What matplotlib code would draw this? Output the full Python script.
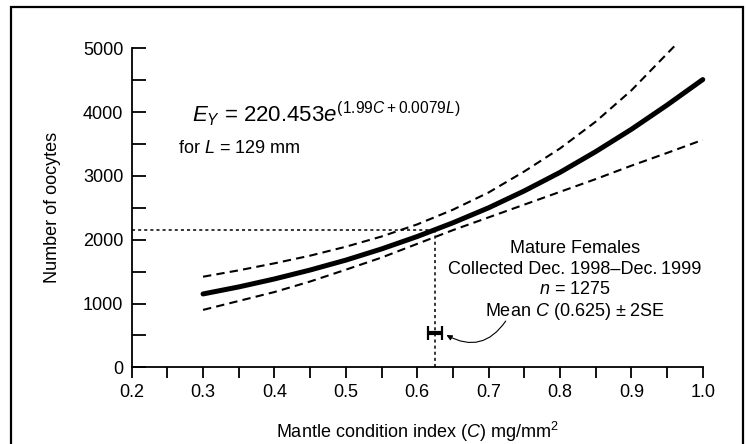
import matplotlib
matplotlib.use("Agg")
import matplotlib.pyplot as plt
from matplotlib.patches import Rectangle
from matplotlib.ticker import MultipleLocator

plt.rcParams["font.family"] = ["Liberation Sans", "DejaVu Sans"]
plt.rcParams["mathtext.fontset"] = "custom"
plt.rcParams["mathtext.rm"] = "Liberation Sans"
plt.rcParams["mathtext.it"] = "Liberation Sans:italic"

# values
c_mean = [0.30, 0.35, 0.40, 0.45, 0.50, 0.55, 0.60, 0.65, 0.70, 0.75, 0.80, 0.85, 0.90, 0.95, 1.00]
eggs_mean = [1150, 1260, 1385, 1525, 1680, 1855, 2050, 2265, 2500, 2765, 3055, 3380, 3730, 4110, 4510]

c_upper = [0.30, 0.35, 0.40, 0.45, 0.50, 0.55, 0.60, 0.65, 0.70, 0.75, 0.80, 0.85, 0.90, 0.96]
eggs_upper = [1420, 1520, 1630, 1750, 1890, 2050, 2240, 2470, 2740, 3070, 3430, 3850, 4340, 5030]

c_lower = [0.30, 0.35, 0.40, 0.45, 0.50, 0.55, 0.60, 0.65, 0.70, 0.75, 0.80, 0.85, 0.90, 0.95, 1.00]
eggs_lower = [900, 1040, 1180, 1345, 1530, 1720, 1935, 2150, 2350, 2550, 2750, 2950, 3160, 3360, 3565]

mean_c = 0.625
mean_c_2se = 0.01
eggs_at_mean = 2160
errbar_y = 540

x_ticks = [0.2, 0.3, 0.4, 0.5, 0.6, 0.7, 0.8, 0.9, 1.0]
x_labels = ["0.2", "0.3", "0.4", "0.5", "0.6", "0.7", "0.8", "0.9", "1.0"]
y_ticks = [0, 1000, 2000, 3000, 4000, 5000]

info_lines = ["Mature Females",
              "Collected Dec. 1998\u2013Dec.\u20091999",
              "$n$ = 1275",
              "Mean $C$ (0.625) \u00b1 2SE"]


def main():
    fig = plt.figure(figsize=(7.46, 4.44), dpi=100)
    ax = fig.add_axes([0.1765, 0.1727, 0.7655, 0.7185])

    # frame round the whole figure
    fig.patches.append(Rectangle((11 / 746, -0.02), 732 / 746, 1.02 - 7 / 444,
                                 transform=fig.transFigure, fill=False,
                                 lw=1.6, ec="black"))

    ax.plot(c_upper, eggs_upper, color="black", lw=1.5, ls=(0, (4, 2.5)), clip_on=False)
    ax.plot(c_lower, eggs_lower, color="black", lw=1.5, ls=(0, (4, 2.5)), clip_on=False)
    ax.plot(c_mean, eggs_mean, color="black", lw=3.6, solid_capstyle="round", clip_on=False)

    # reading lines at the mean condition index
    ax.plot([x_ticks[0], mean_c], [eggs_at_mean, eggs_at_mean], color="black", lw=1.1, ls=(0, (2, 2)))
    ax.plot([mean_c, mean_c], [0, eggs_at_mean], color="black", lw=1.1, ls=(0, (2, 2)))

    ax.errorbar(mean_c, errbar_y, xerr=mean_c_2se, fmt="none", ecolor="black",
                elinewidth=3, capsize=5, capthick=1.6)

    ax.text(0.284, 3850, r"$E_Y$ = 220.453$e^{(1.99C + 0.0079L)}$", fontsize=16, va="baseline")
    ax.text(0.265, 3359, "for $L$ = 129 mm", fontsize=13, va="baseline")

    ys = [1870, 1533, 1212, 882]
    for line, y in zip(info_lines, ys):
        ax.text(0.8205, y, line, fontsize=13, ha="center", va="center")

    ax.annotate("", xy=(0.641, 506), xytext=(0.724, 725),
                arrowprops=dict(arrowstyle="-|>", color="black", lw=0.8,
                                mutation_scale=8, connectionstyle="arc3,rad=-0.45",
                                shrinkA=0, shrinkB=0))

    ax.set_xlim(0.2, 1.0)
    ax.set_ylim(0, 5000)
    ax.set_xticks(x_ticks, x_labels)
    ax.set_yticks(y_ticks)
    ax.xaxis.set_minor_locator(MultipleLocator(0.05))
    ax.yaxis.set_minor_locator(MultipleLocator(500))
    ax.tick_params(axis="x", which="both", direction="out", length=8, width=1.3,
                   labelsize=13, pad=4)
    ax.tick_params(axis="y", which="both", direction="in", length=10, width=1.3,
                   labelsize=13, pad=6)

    for side in ["top", "right"]:
        ax.spines[side].set_visible(False)
    for side in ["left", "bottom"]:
        ax.spines[side].set_linewidth(1.3)

    ax.set_xlabel("Mantle condition index ($C$) mg/mm$^2$", fontsize=13)
    ax.set_ylabel("Number of oocytes", fontsize=13)
    ax.xaxis.label.set_va("center")
    ax.yaxis.label.set_va("center")
    ax.xaxis.set_label_coords(0.5, -0.203)
    ax.yaxis.set_label_coords(-0.138, 0.5)

    fig.savefig("out.png", dpi=100)


if __name__ == "__main__":
    main()
